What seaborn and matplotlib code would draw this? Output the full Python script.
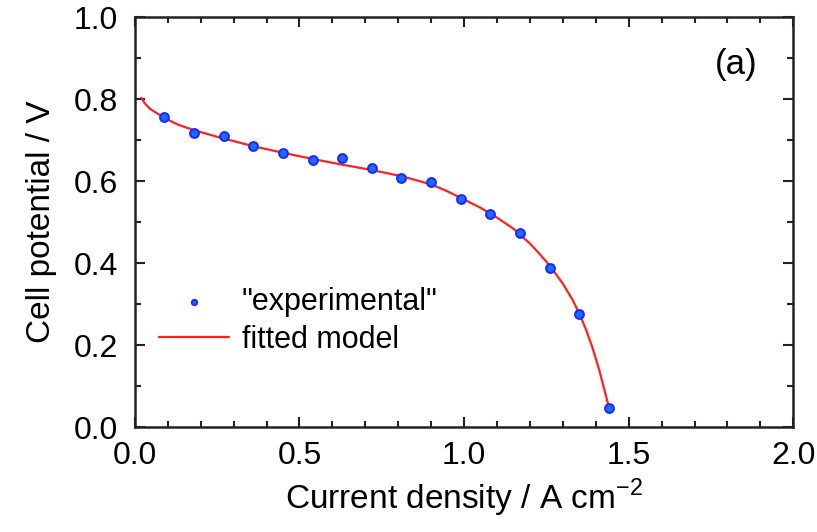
import matplotlib
matplotlib.use("Agg")
import matplotlib.pyplot as plt
import seaborn as sns
import pandas as pd
from matplotlib.ticker import MultipleLocator

# Experimental data
exp_current = [0.09, 0.18, 0.27, 0.36, 0.45, 0.54, 0.63, 0.72, 0.81, 0.90,
               0.99, 1.08, 1.17, 1.26, 1.35, 1.44]
exp_potential = [0.757, 0.717, 0.710, 0.686, 0.668, 0.651, 0.656, 0.632, 0.607,
                 0.598, 0.556, 0.519, 0.474, 0.389, 0.277, 0.048]

# Fitted model curve
fit_current = [0.02, 0.03, 0.045, 0.06, 0.09, 0.13, 0.18, 0.25, 0.36, 0.45, 0.54,
               0.63, 0.72, 0.81, 0.90, 0.95, 1.00, 1.05, 1.10, 1.15, 1.20, 1.23,
               1.26, 1.30, 1.33, 1.35, 1.37, 1.39, 1.41, 1.43, 1.44]
fit_potential = [0.803, 0.790, 0.777, 0.769, 0.754, 0.738, 0.724, 0.708, 0.685,
                 0.669, 0.654, 0.640, 0.627, 0.612, 0.592, 0.575, 0.555, 0.535,
                 0.511, 0.484, 0.448, 0.422, 0.394, 0.350, 0.310, 0.277, 0.239,
                 0.194, 0.141, 0.080, 0.048]

x_ticks = [0.0, 0.5, 1.0, 1.5, 2.0]
y_ticks = [0.0, 0.2, 0.4, 0.6, 0.8, 1.0]

sns.set_theme(style="ticks")
plt.rcParams['font.family'] = ['Liberation Sans', 'DejaVu Sans']
plt.rcParams['text.color'] = 'black'
plt.rcParams['axes.labelcolor'] = 'black'
plt.rcParams['xtick.color'] = 'black'
plt.rcParams['ytick.color'] = 'black'

fig = plt.figure(figsize=(8.17, 5.32), dpi=100)
ax = fig.add_axes([0.165, 0.197, 0.806, 0.771])

df_exp = pd.DataFrame({"x": exp_current, "y": exp_potential})
df_fit = pd.DataFrame({"x": fit_current, "y": fit_potential})

sns.lineplot(data=df_fit, x="x", y="y", ax=ax, color="#ff2020", linewidth=1.6,
             label="fitted model", sort=False, zorder=2)
sns.scatterplot(data=df_exp, x="x", y="y", ax=ax, color="#1e6bff", edgecolor="#1a2cff",
                linewidth=1.5, s=40, label='"experimental"', zorder=3)

ax.set_xlim(0, 2.0)
ax.set_ylim(0, 1.0)
ax.set_xticks(x_ticks)
ax.set_yticks(y_ticks)
ax.set_xticklabels([f"{v:.1f}" for v in x_ticks])
ax.set_yticklabels([f"{v:.1f}" for v in y_ticks])
ax.xaxis.set_minor_locator(MultipleLocator(0.1))
ax.yaxis.set_minor_locator(MultipleLocator(0.1))
ax.tick_params(which="both", direction="in", top=True, right=True, color="#222222",
               labelsize=23, width=1.5, labelcolor="black")
ax.tick_params(which="major", length=7)
ax.tick_params(axis="x", which="major", pad=10)
ax.tick_params(axis="y", which="major", pad=12)
ax.tick_params(which="minor", length=4)
for s in ax.spines.values():
    s.set_linewidth(1.8)
    s.set_color("#222222")

ax.set_xlabel("Current density / A cm$^{\\mathregular{-2}}$", fontsize=24, labelpad=4)
ax.set_ylabel("Cell potential / V", fontsize=24, labelpad=12)

ax.text(0.913, 0.885, "(a)", transform=ax.transAxes, fontsize=25, ha="center", va="center")

handles, labels = ax.get_legend_handles_labels()
order = [1, 0]
leg = ax.legend([handles[i] for i in order], [labels[i] for i in order],
                loc="lower left", bbox_to_anchor=(-0.005, 0.11), frameon=False,
                fontsize=22, handlelength=2.3, handletextpad=0.4, labelspacing=0.25,
                markerscale=0.6)

fig.savefig("out.png", dpi=100)
